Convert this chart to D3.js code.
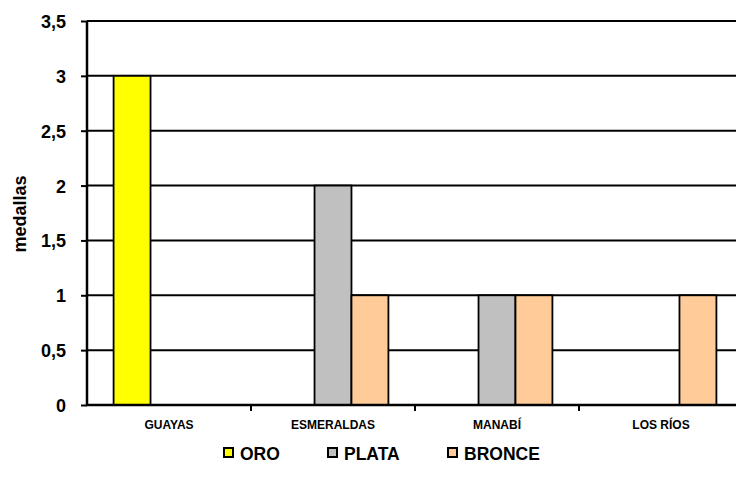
<!DOCTYPE html>
<html><head><meta charset="utf-8">
<script src="https://cdn.jsdelivr.net/npm/d3@7"></script>
<style>body{margin:0;background:#fff}svg{display:block;font-family:"Liberation Sans",Arial,sans-serif;font-weight:bold}</style>
</head><body>
<svg id="c" width="736" height="484"></svg>
<script>
const categories = ["GUAYAS","ESMERALDAS","MANABÍ","LOS RÍOS"];
const seriesNames = ["ORO","PLATA","BRONCE"];
const oro = [3,0,0,0];
const plata = [0,2,1,0];
const bronce = [0,1,1,1];
const yTicks = [0,0.5,1,1.5,2,2.5,3,3.5];
const colors = ["#FFFF00","#C0C0C0","#FFCC99"];
const seriesVals = [oro, plata, bronce];

const FF = "Liberation Sans, Arial, sans-serif";
const svg = d3.select("#c");
const x0 = d3.scaleBand().domain(categories).range([87,743]).paddingInner(0).paddingOuter(0);
const x1 = d3.scaleBand().domain(seriesNames).range([0,x0.bandwidth()]).paddingInner(0).paddingOuter(0.72);
const y = d3.scaleLinear().domain([0,3.5]).range([405,21]);
const fmt = d => String(d).replace(".", ",");

// gridlines
svg.append("g").selectAll("line").data(yTicks.filter(d=>d>0)).join("line")
  .attr("x1",87).attr("x2",743).attr("y1",d=>y(d)).attr("y2",d=>y(d))
  .attr("stroke","#000").attr("stroke-width",2);

// bars
const data = [];
categories.forEach((c,i)=>seriesNames.forEach((s,j)=>{ if(seriesVals[j][i]>0) data.push({c,s,v:seriesVals[j][i],col:colors[j]}); }));
svg.append("g").selectAll("rect").data(data).join("rect")
  .attr("x",d=>x0(d.c)+x1(d.s)).attr("width",x1.bandwidth())
  .attr("y",d=>y(d.v)).attr("height",d=>y(0)-y(d.v))
  .attr("fill",d=>d.col).attr("stroke","#000").attr("stroke-width",1.8);

// y axis
const ya = svg.append("g").attr("transform","translate(87,0)")
  .call(d3.axisLeft(y).tickValues(yTicks).tickFormat(fmt).tickSize(6).tickPadding(15));
ya.select(".domain").attr("stroke","#000").attr("stroke-width",2.5).attr("d","M0,21V406");
ya.selectAll(".tick line").attr("stroke-width",2);
ya.selectAll("text").attr("font-size",18).attr("font-weight","bold").attr("fill","#000").attr("font-family",FF).attr("dy","0.36em");

// x axis
const xa = svg.append("g").attr("transform","translate(0,405)")
  .call(d3.axisBottom(x0).tickSize(0).tickPadding(15));
xa.select(".domain").attr("stroke","#000").attr("stroke-width",2.5).attr("d","M86,0H743");
xa.selectAll("text").attr("font-size",12).attr("font-weight","bold").attr("fill","#000").attr("font-family",FF);
// category separator ticks
svg.append("g").selectAll("line").data(categories.slice(1)).join("line")
  .attr("x1",d=>x0(d)).attr("x2",d=>x0(d)).attr("y1",405).attr("y2",411)
  .attr("stroke","#000").attr("stroke-width",2);

// y title
svg.append("text").attr("transform","translate(26,214) rotate(-90)")
  .attr("text-anchor","middle").attr("font-size",18).text("medallas");

// legend
const legX = [223,327,447];
const lg = svg.append("g").selectAll("g").data(seriesNames).join("g")
  .attr("transform",(d,i)=>`translate(${legX[i]},447)`);
lg.append("rect").attr("x",1).attr("y",1).attr("width",9).attr("height",9).attr("fill",(d,i)=>colors[i])
  .attr("stroke","#000").attr("stroke-width",2);
lg.append("text").attr("x",17).attr("y",12.5).attr("font-size",17.5).text(d=>d);
</script>
</body></html>
